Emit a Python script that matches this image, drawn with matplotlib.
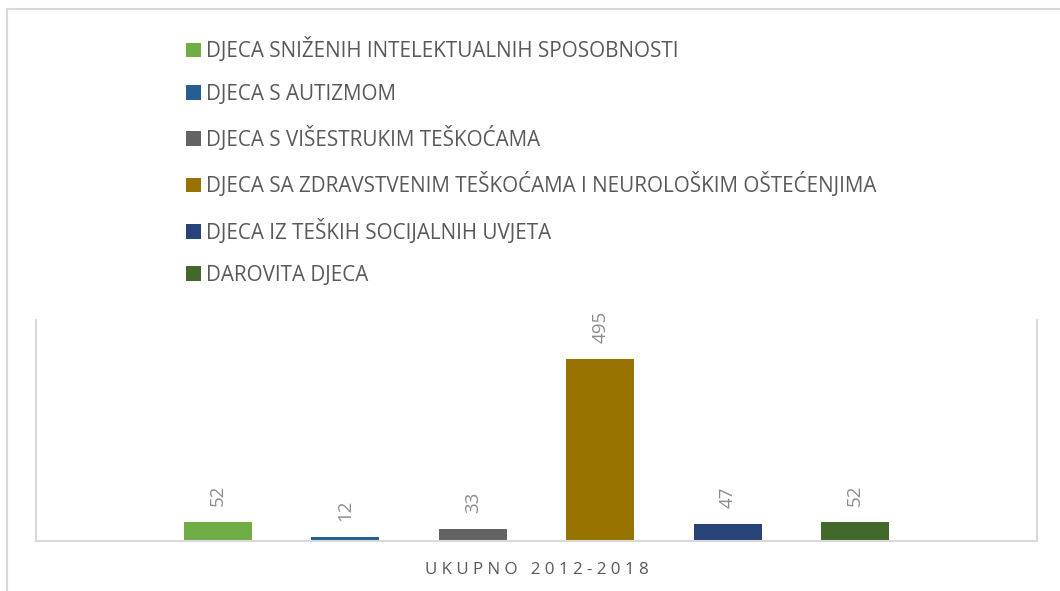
import matplotlib.pyplot as plt
from matplotlib.lines import Line2D

plt.rcParams['font.family'] = ['Open Sans', 'DejaVu Sans']

categories = [
    "DJECA SNIŽENIH INTELEKTUALNIH SPOSOBNOSTI",
    "DJECA S AUTIZMOM",
    "DJECA S VIŠESTRUKIM TEŠKOĆAMA",
    "DJECA SA ZDRAVSTVENIM TEŠKOĆAMA I NEUROLOŠKIM OŠTEĆENJIMA",
    "DJECA IZ TEŠKIH SOCIJALNIH UVJETA",
    "DAROVITA DJECA",
]
values = [52, 12, 33, 495, 47, 52]
colors = ["#70ad47", "#255e91", "#636363", "#997300", "#264478", "#43682b"]
group_label = "UKUPNO 2012-2018"

W, H = 1060, 591
fig = plt.figure(figsize=(W / 100, H / 100), dpi=100)

# plot area in pixel terms
left, right, top, bottom = 36, 1037, 320, 541
ax = fig.add_axes([left / W, (H - bottom) / H, (right - left) / W, (bottom - top) / H])

bars = []
for i, (cat, v, c) in enumerate(zip(categories, values, colors)):
    b = ax.bar(i, v, width=0.534, color=c, label=cat, zorder=2)
    ax.bar_label(b, labels=[str(v)], rotation=90, padding=11.5,
                 fontsize=13.5, color="#8c8c8c")
    bars.append(b)

ax.set_xlim(-1.43, 6.43)
ax.set_ylim(0, 600)
ax.set_xticks([])
ax.set_yticks([])
for s in ["left", "right", "bottom"]:
    ax.spines[s].set_color("#d9d9d9")
    ax.spines[s].set_linewidth(1.5)
ax.spines["top"].set_visible(False)

spaced = " ".join(group_label)
ax.set_xlabel(spaced, fontsize=12.2, color="#595959", labelpad=15)

leg = fig.legend(handles=bars, labels=categories, loc="upper left",
                 bbox_to_anchor=(176 / W, 1 - 27 / H), frameon=False,
                 fontsize=14.9, handlelength=0.7, handleheight=0.7,
                 handletextpad=0.25, labelspacing=1.03, borderpad=0)
for t in leg.get_texts():
    t.set_color("#595959")

# outer chart border
fig.add_artist(Line2D([6.5 / W, 6.5 / W], [0, 1 - 8.5 / H], color="#d9d9d9", lw=1.5,
                      transform=fig.transFigure))
fig.add_artist(Line2D([6.5 / W, 1], [1 - 8.5 / H, 1 - 8.5 / H], color="#d9d9d9", lw=1.5,
                      transform=fig.transFigure))

fig.savefig("out.png", dpi=100)
